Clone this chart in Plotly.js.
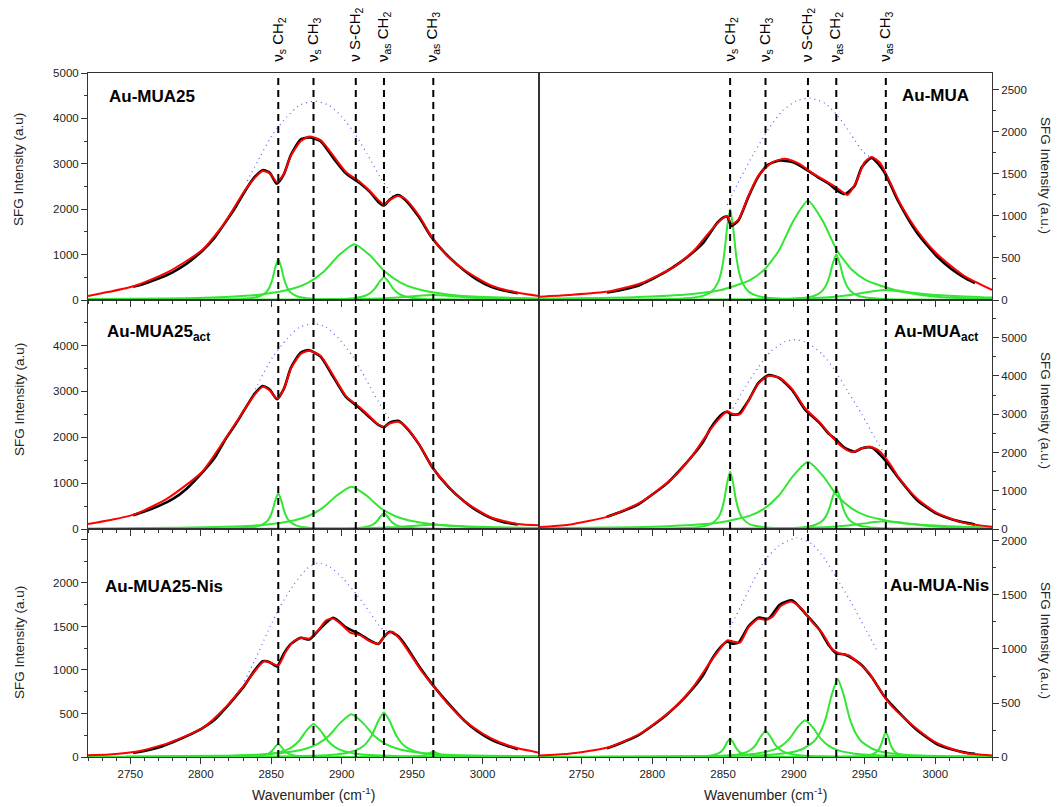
<!DOCTYPE html>
<html><head><meta charset="utf-8">
<script src="https://cdn.plot.ly/plotly-3.0.1.min.js"></script>
<style>body{margin:0;background:#fff}#chart{width:1057px;height:807px}</style>
</head><body><div id="chart"></div>
<script>
// ---------- shared ----------
const modeWavenumbers = [2855, 2880, 2910, 2930, 2965];
const modeLabels = ['ν<sub>s</sub> CH<sub>2</sub>', 'ν<sub>s</sub> CH<sub>3</sub>', 'ν S-CH<sub>2</sub>', 'ν<sub>as</sub> CH<sub>2</sub>', 'ν<sub>as</sub> CH<sub>3</sub>'];
const panelNames = ['Au-MUA25', 'Au-MUA25<sub>act</sub>', 'Au-MUA25-Nis', 'Au-MUA', 'Au-MUA<sub>act</sub>', 'Au-MUA-Nis'];
const xTickLabels = [2750, 2800, 2850, 2900, 2950, 3000];

// ---------- left column (Au-MUA25) ----------
const leftFitX = [2720, 2735, 2754, 2777, 2801, 2817, 2831, 2838, 2844, 2849, 2854, 2859, 2864, 2871, 2877, 2885, 2894, 2903, 2913, 2920, 2926, 2930, 2934, 2940, 2945, 2955, 2964, 2976, 2987, 3006, 3025, 3040];
const tlFitY = [90, 180, 320, 620, 1100, 1700, 2400, 2680, 2840, 2790, 2600, 2780, 3180, 3500, 3600, 3520, 3180, 2820, 2600, 2400, 2200, 2100, 2200, 2290, 2230, 1850, 1380, 940, 660, 320, 160, 90];
const mlFitY = [110, 190, 330, 680, 1250, 1950, 2600, 2920, 3100, 3020, 2850, 3050, 3500, 3820, 3890, 3780, 3350, 2900, 2650, 2450, 2280, 2230, 2300, 2340, 2250, 1850, 1360, 920, 600, 250, 110, 80];
const blFitX = [2720, 2735, 2754, 2777, 2801, 2817, 2831, 2840, 2845, 2850, 2855, 2860, 2866, 2872, 2877, 2883, 2889, 2894, 2900, 2906, 2913, 2920, 2926, 2931, 2936, 2941, 2948, 2957, 2964, 2976, 2987, 3000, 3012, 3025, 3040];
const blFitY = [20, 30, 60, 160, 330, 560, 830, 1020, 1100, 1080, 1050, 1200, 1330, 1370, 1360, 1450, 1570, 1590, 1520, 1430, 1400, 1330, 1300, 1400, 1440, 1360, 1200, 980, 840, 600, 420, 270, 170, 100, 50];

const leftExpX = [2752, 2760, 2770, 2780, 2790, 2801, 2810, 2817, 2825, 2831, 2838, 2844, 2849, 2854, 2859, 2864, 2871, 2877, 2885, 2894, 2903, 2913, 2920, 2926, 2930, 2934, 2940, 2945, 2955, 2964, 2976, 2987, 2996, 3006, 3015, 3025];
const tlExpY = [290, 360, 470, 610, 800, 1080, 1380, 1690, 2060, 2380, 2700, 2860, 2800, 2560, 2770, 3200, 3540, 3580, 3500, 3130, 2790, 2570, 2380, 2160, 2080, 2210, 2310, 2210, 1820, 1370, 950, 650, 450, 290, 210, 150];
const mlExpY = [300, 380, 500, 650, 880, 1230, 1560, 1930, 2300, 2600, 2940, 3120, 3040, 2830, 3060, 3520, 3850, 3900, 3760, 3320, 2880, 2630, 2430, 2270, 2220, 2320, 2360, 2240, 1840, 1360, 910, 600, 400, 240, 150, 100];
const blExpY = [50, 70, 110, 170, 240, 330, 430, 550, 700, 820, 990, 1100, 1090, 1040, 1190, 1300, 1370, 1350, 1480, 1600, 1490, 1410, 1340, 1300, 1380, 1440, 1390, 1290, 1040, 840, 610, 420, 300, 200, 140, 90];

const tlIrX = [2833, 2842, 2851, 2861, 2870, 2881, 2891, 2900, 2909, 2918, 2927, 2937];
const tlIrY = [2620, 3150, 3650, 4030, 4290, 4380, 4290, 4040, 3680, 3220, 2720, 2250];
const mlIrX = [2834, 2842, 2851, 2861, 2870, 2880, 2889, 2898, 2908, 2917, 2926, 2936];
const mlIrY = [2750, 3250, 3750, 4140, 4400, 4480, 4400, 4150, 3760, 3280, 2780, 2300];
const blIrX = [2831, 2838, 2847, 2856, 2866, 2875, 2883, 2892, 2901, 2911, 2920, 2929, 2937];
const blIrY = [870, 1100, 1420, 1720, 1980, 2160, 2230, 2180, 2050, 1860, 1660, 1470, 1440];

// ---------- right column (Au-MUA) ----------
const trFitX = [2720, 2741, 2769, 2792, 2815, 2829, 2841, 2849, 2853, 2856, 2861, 2868, 2875, 2885, 2894, 2904, 2913, 2920, 2928, 2934, 2938, 2944, 2950, 2955, 2961, 2968, 2976, 2987, 3001, 3020, 3040];
const trFitY = [40, 60, 100, 200, 390, 580, 820, 960, 1000, 900, 960, 1240, 1480, 1640, 1680, 1620, 1510, 1440, 1360, 1290, 1250, 1400, 1640, 1700, 1630, 1400, 1120, 830, 550, 290, 120];
const mrFitX = [2720, 2741, 2769, 2792, 2815, 2829, 2841, 2849, 2853, 2856, 2862, 2868, 2875, 2882, 2890, 2899, 2908, 2918, 2926, 2934, 2941, 2948, 2954, 2960, 2967, 2975, 2987, 3001, 3020, 3040];
const mrFitY = [50, 110, 330, 700, 1350, 1950, 2600, 2950, 3080, 3020, 3000, 3350, 3800, 4000, 3950, 3650, 3150, 2800, 2450, 2150, 2010, 2110, 2150, 2050, 1750, 1300, 800, 420, 160, 60];
const brFitX = [2720, 2741, 2769, 2792, 2815, 2829, 2841, 2849, 2853, 2857, 2862, 2868, 2875, 2880, 2885, 2891, 2898, 2905, 2913, 2920, 2927, 2932, 2939, 2945, 2953, 2960, 2966, 2973, 2987, 3001, 3020, 3040];
const brFitY = [15, 30, 90, 220, 450, 650, 880, 1020, 1080, 1070, 1060, 1200, 1280, 1270, 1300, 1400, 1440, 1380, 1250, 1150, 1000, 960, 940, 880, 780, 640, 520, 420, 260, 130, 40, 15];

const rightExpX = [2768, 2778, 2790, 2800, 2810, 2820, 2829, 2836, 2841, 2846, 2850, 2853, 2856, 2861, 2868, 2875, 2882, 2890, 2899, 2908, 2918, 2925, 2930, 2936, 2943, 2948, 2955, 2964, 2973, 2987, 3001, 3012, 3022, 3028];
const trExpY = [90, 120, 170, 250, 340, 450, 570, 680, 800, 920, 980, 990, 880, 950, 1230, 1470, 1610, 1660, 1640, 1560, 1450, 1380, 1310, 1260, 1360, 1580, 1690, 1520, 1200, 800, 520, 360, 250, 200];
const mrExpY = [320, 450, 640, 900, 1180, 1560, 1940, 2280, 2620, 2880, 3020, 3060, 2990, 3000, 3360, 3820, 4020, 3940, 3620, 3120, 2780, 2480, 2330, 2120, 2020, 2110, 2130, 1820, 1380, 760, 400, 250, 160, 120];
const brExpY = [80, 130, 200, 290, 390, 510, 640, 760, 880, 980, 1040, 1070, 1050, 1060, 1210, 1290, 1280, 1410, 1450, 1330, 1180, 1030, 960, 950, 900, 850, 740, 560, 430, 250, 120, 70, 40, 30];

const trIrX = [2853, 2862, 2872, 2882, 2892, 2902, 2912, 2922, 2931, 2940, 2949, 2954];
const trIrY = [1130, 1440, 1750, 2030, 2250, 2370, 2400, 2340, 2190, 1980, 1760, 1700];
const mrIrX = [2857, 2866, 2875, 2884, 2894, 2901, 2910, 2920, 2929, 2938, 2948, 2957, 2966];
const mrIrY = [3150, 3730, 4230, 4650, 4900, 4950, 4860, 4570, 4150, 3600, 3000, 2400, 1850];
const brIrX = [2855, 2862, 2871, 2880, 2890, 2902, 2913, 2922, 2931, 2941, 2950, 2959];
const brIrY = [1200, 1380, 1620, 1830, 1960, 2030, 1970, 1830, 1640, 1420, 1200, 980];

// ---------- fitted components (green) ----------
const g2855X = [2771, 2813, 2829.8, 2838.2, 2842.4, 2846.6, 2848.7, 2850.8, 2852.9, 2855, 2857.1, 2859.2, 2861.3, 2863.4, 2867.6, 2871.8, 2880.2, 2897, 2939];
const tlG1Y = [2, 9, 24, 53, 90, 180, 277, 450, 720, 900, 720, 450, 277, 180, 90, 53, 24, 9, 2];
const mlG1Y = [2, 8, 21, 46, 78, 156, 240, 390, 624, 780, 624, 390, 240, 156, 78, 46, 21, 8, 2];
const blG1Y = [0, 1, 4, 9, 15, 30, 46, 75, 120, 150, 120, 75, 46, 30, 15, 9, 4, 1, 0];
const trG1Y = [3, 11, 29, 64, 108, 216, 333, 540, 864, 1080, 864, 540, 333, 216, 108, 64, 29, 11, 3];
const mrG1Y = [4, 15, 41, 89, 150, 300, 462, 750, 1200, 1500, 1200, 750, 462, 300, 150, 89, 41, 15, 4];
const brG1Y = [0, 2, 5, 10, 17, 34, 52, 85, 136, 170, 136, 85, 52, 34, 17, 10, 5, 2, 0];

const tlG2X = [2689, 2777, 2821, 2843, 2865, 2876, 2887, 2898, 2909, 2920, 2931, 2942, 2953, 2975, 2997, 3041, 3129];
const tlG2Y = [12, 33, 73, 123, 246, 379, 615, 984, 1230, 984, 615, 379, 246, 123, 73, 33, 12];
const mlG2X = [2702, 2784, 2825, 2845.5, 2866, 2876.3, 2886.5, 2896.8, 2907, 2917.3, 2927.5, 2937.8, 2948, 2968.5, 2989, 3030, 3112];
const mlG2Y = [9, 25, 54, 92, 184, 283, 460, 736, 920, 736, 460, 283, 184, 92, 54, 25, 9];
const rG2X = [2705, 2787, 2828, 2848.5, 2869, 2879.3, 2889.5, 2899.8, 2910, 2920.3, 2930.5, 2940.8, 2951, 2971.5, 2992, 3033, 3115];
const trG2Y = [12, 32, 70, 118, 236, 363, 590, 944, 1180, 944, 590, 363, 236, 118, 70, 32, 12];
const mrG2Y = [17, 47, 103, 175, 350, 539, 875, 1400, 1750, 1400, 875, 539, 350, 175, 103, 47, 17];

const tlG3X = [2800, 2865, 2891, 2904, 2910.5, 2917, 2920.3, 2923.5, 2926.8, 2930, 2933.3, 2936.5, 2939.8, 2943, 2949.5, 2956, 2969, 2995, 3060];
const tlG3Y = [1, 5, 14, 30, 50, 100, 154, 250, 400, 500, 400, 250, 154, 100, 50, 30, 14, 5, 1];
const g2930X = [2830, 2880, 2900, 2910, 2915, 2920, 2922.5, 2925, 2927.5, 2930, 2932.5, 2935, 2937.5, 2940, 2945, 2950, 2960, 2980, 3030];
const mlG3Y = [1, 3, 9, 20, 34, 68, 105, 170, 272, 340, 272, 170, 105, 68, 34, 20, 9, 3, 1];
const trG3Y = [1, 5, 15, 32, 54, 108, 166, 270, 432, 540, 432, 270, 166, 108, 54, 32, 15, 5, 1];
const mrG3Y = [3, 10, 28, 62, 105, 210, 323, 525, 840, 1050, 840, 525, 323, 210, 105, 62, 28, 10, 3];

const g2965BroadX = [2715, 2815, 2865, 2890, 2915, 2927.5, 2940, 2952.5, 2965, 2977.5, 2990, 3002.5, 3015, 3040, 3065];
const tlG4Y = [1, 3, 6, 11, 22, 34, 55, 88, 110, 88, 55, 34, 22, 11, 6];
const mlG4Y = [1, 2, 5, 9, 18, 28, 45, 72, 90, 72, 45, 28, 18, 9, 5];
const trG4Y = [1, 3, 7, 12, 24, 37, 60, 96, 120, 96, 60, 37, 24, 12, 7];
const mrG4Y = [2, 5, 12, 20, 40, 62, 100, 160, 200, 160, 100, 62, 40, 20, 12];

const blG2X = [2680, 2780, 2820, 2840, 2850, 2860, 2865, 2870, 2875, 2880, 2885, 2890, 2895, 2900, 2910, 2920, 2940, 2980, 3080];
const blG2Y = [1, 4, 10, 22, 38, 76, 117, 190, 304, 380, 304, 190, 117, 76, 38, 22, 10, 4, 1];
const blG3X = [2747, 2811, 2843, 2859, 2875, 2883, 2891, 2899, 2907, 2915, 2923, 2931, 2939, 2955, 2971, 3003, 3067];
const blG3Y = [5, 13, 29, 49, 98, 151, 245, 392, 490, 392, 245, 151, 98, 49, 29, 13, 5];
const blG4X = [2762, 2846, 2879.6, 2896.4, 2904.8, 2913.2, 2917.4, 2921.6, 2925.8, 2930, 2934.2, 2938.4, 2942.6, 2946.8, 2955.2, 2963.6, 2980.4, 3014, 3098];
const blG4Y = [1, 5, 14, 30, 51, 102, 157, 255, 408, 510, 408, 255, 157, 102, 51, 30, 14, 5, 1];
const blG5X = [2871, 2918, 2936.8, 2946.2, 2950.9, 2955.6, 2958, 2960.3, 2962.7, 2965, 2967.4, 2969.7, 2972, 2974.4, 2979.1, 2983.8, 2993.2, 3012, 3059];
const blG5Y = [0, 1, 2, 4, 6, 12, 18, 30, 48, 60, 48, 30, 18, 12, 6, 4, 2, 1, 0];

const brG2X = [2750, 2815, 2841, 2854, 2860.5, 2867, 2870.3, 2873.5, 2876.8, 2880, 2883.3, 2886.5, 2889.8, 2893, 2899.5, 2906, 2919, 2945, 3010];
const brG2Y = [1, 2, 6, 14, 24, 48, 74, 120, 192, 240, 192, 120, 74, 48, 24, 14, 6, 2, 1];
const brG3X = [2688, 2798, 2842, 2864, 2875, 2886, 2891.5, 2897, 2902.5, 2908, 2913.5, 2919, 2924.5, 2930, 2941, 2952, 2974, 3018, 3128];
const brG3Y = [1, 3, 9, 20, 34, 68, 105, 170, 272, 340, 272, 170, 105, 68, 34, 20, 9, 3, 1];
const brG4X = [2763, 2847, 2880.6, 2897.4, 2905.8, 2914.2, 2918.4, 2922.6, 2926.8, 2931, 2935.2, 2939.4, 2943.6, 2947.8, 2956.2, 2964.6, 2981.4, 3015, 3099];
const brG4Y = [2, 7, 19, 42, 72, 144, 222, 360, 576, 720, 576, 360, 222, 144, 72, 42, 19, 7, 2];
const brG5X = [2899, 2932, 2945.2, 2951.8, 2955.1, 2958.4, 2960, 2961.7, 2963.4, 2965, 2966.7, 2968.3, 2970, 2971.6, 2974.9, 2978.2, 2984.8, 2998, 3031];
const brG5Y = [1, 2, 6, 14, 23, 46, 71, 115, 184, 230, 184, 115, 71, 46, 23, 14, 6, 2, 1];

// y-axis tick values per panel (TL, ML, BL, TR, MR, BR)
const yTickVals = [[0, 1000, 2000, 3000, 4000, 5000], [0, 1000, 2000, 3000, 4000], [0, 500, 1000, 1500, 2000, 2500],
                   [0, 500, 1000, 1500, 2000, 2500], [0, 1000, 2000, 3000, 4000, 5000], [0, 500, 1000, 1500, 2000]];
const yTickText = [['0', '1000', '2000', '3000', '4000', '5000'], ['0', '1000', '2000', '3000', '4000'], ['0', '500', '1000', '1500', '2000', ''],
                   ['0', '500', '1000', '1500', '2000', '2500'], ['0', '1000', '2000', '3000', '4000', '5000'], ['0', '500', '1000', '1500', '2000']];

// ---------- build ----------
const W = 1057, H = 807;
const px = v => v / W, py = v => 1 - v / H;
const GREEN = '#33e633', RED = '#ff0000', BLACK = '#000000', BLUE = '#5a5aff';
const FONT = 'Liberation Sans, Arial, Helvetica, sans-serif';

const traces = [];
function line(xs, ys, ax, color, width, dash) {
  traces.push({x: xs, y: ys, xaxis: 'x' + ax, yaxis: 'y' + ax, type: 'scatter', mode: 'lines',
    line: {color: color, width: width, dash: dash || 'solid', shape: 'spline', smoothing: 0.6},
    hoverinfo: 'skip', showlegend: false});
}
function panel(ax, greens, ir, exp, fit) {
  greens.forEach(g => line(g[0], g[1], ax, GREEN, 2));
  line(ir[0], ir[1], ax, BLUE, 1.2, '1px,4px');
  line(exp[0], exp[1], ax, BLACK, 2.6);
  line(fit[0], fit[1], ax, RED, 2);
}
const AX = ['', '2', '3', '4', '5', '6'];
panel('', [[g2855X, tlG1Y], [tlG2X, tlG2Y], [tlG3X, tlG3Y], [g2965BroadX, tlG4Y]], [tlIrX, tlIrY], [leftExpX, tlExpY], [leftFitX, tlFitY]);
panel('2', [[g2855X, mlG1Y], [mlG2X, mlG2Y], [g2930X, mlG3Y], [g2965BroadX, mlG4Y]], [mlIrX, mlIrY], [leftExpX, mlExpY], [leftFitX, mlFitY]);
panel('3', [[g2855X, blG1Y], [blG2X, blG2Y], [blG3X, blG3Y], [blG4X, blG4Y], [blG5X, blG5Y]], [blIrX, blIrY], [leftExpX, blExpY], [blFitX, blFitY]);
panel('4', [[g2855X, trG1Y], [rG2X, trG2Y], [g2930X, trG3Y], [g2965BroadX, trG4Y]], [trIrX, trIrY], [rightExpX, trExpY], [trFitX, trFitY]);
panel('5', [[g2855X, mrG1Y], [rG2X, mrG2Y], [g2930X, mrG3Y], [g2965BroadX, mrG4Y]], [mrIrX, mrIrY], [rightExpX, mrExpY], [mrFitX, mrFitY]);
panel('6', [[g2855X, brG1Y], [brG2X, brG2Y], [brG3X, brG3Y], [brG4X, brG4Y], [brG5X, brG5Y]], [brIrX, brIrY], [rightExpX, brExpY], [brFitX, brFitY]);

const colX = [[px(88), px(539)], [px(539), px(992)]];
const rowY = [[py(300), py(73)], [py(529), py(300)], [py(757), py(529)]];
const yRanges = [[0, 5000], [0, 4995], [0, 2620], [0, 2700], [0, 5985], [0, 2111]];
const yMinorD = [500, 500, 250, 250, 500, 250];

const layout = {width: W, height: H, margin: {l: 0, r: 0, t: 0, b: 0},
  paper_bgcolor: '#fff', plot_bgcolor: '#fff', showlegend: false,
  font: {family: FONT, color: '#222', size: 11}, annotations: [], shapes: []};

for (let i = 0; i < 6; i++) {
  const col = i < 3 ? 0 : 1, row = i % 3, a = AX[i];
  layout['xaxis' + a] = {domain: colX[col], anchor: 'y' + a, range: [2720, 3040],
    tickmode: 'array', tickvals: xTickLabels, ticktext: xTickLabels.map(String),
    ticks: 'outside', ticklen: 6, tickwidth: 1, tickcolor: '#333',
    minor: {ticks: 'outside', tickmode: 'linear', tick0: 2720, dtick: 10, ticklen: 3, tickcolor: '#333'},
    showticklabels: row === 2, tickfont: {size: 11.5, color: '#222', family: FONT},
    showline: true, linecolor: '#333', linewidth: 1, mirror: true,
    showgrid: false, zeroline: false, fixedrange: true};
  layout['yaxis' + a] = {domain: rowY[row], anchor: 'x' + a, range: yRanges[i],
    tickmode: 'array', tickvals: yTickVals[i], ticktext: yTickText[i], side: col === 0 ? 'left' : 'right',
    ticks: 'outside', ticklen: 6, tickwidth: 1, tickcolor: '#333',
    minor: {ticks: 'outside', tickmode: 'linear', tick0: 0, dtick: yMinorD[i], ticklen: 3, tickcolor: '#333'},
    tickfont: {size: 11.5, color: '#222', family: FONT},
    showline: true, linecolor: '#333', linewidth: 1, mirror: true,
    showgrid: false, zeroline: false, fixedrange: true};
}

// dashed mode lines and their labels
modeWavenumbers.forEach((w, k) => {
  ['x', 'x4'].forEach(xr => {
    layout.shapes.push({type: 'line', xref: xr, yref: 'paper', x0: w, x1: w, y0: py(757), y1: py(73),
      line: {color: '#000', width: 2, dash: '7px,5px'}, layer: 'above'});
    layout.annotations.push({xref: xr, yref: 'paper', x: w, y: py(64), xanchor: 'center', yanchor: 'bottom',
      text: modeLabels[k], textangle: -90, showarrow: false, font: {size: 15, color: '#000', family: FONT}});
  });
});

// panel names
const namePos = [[107, 97], [105, 333], [103, 586], [900, 96], [892, 333], [888, 585]];
panelNames.forEach((n, i) => {
  layout.annotations.push({xref: 'paper', yref: 'paper', x: px(namePos[i][0]), y: py(namePos[i][1]),
    xanchor: 'left', yanchor: 'middle', text: '<b>' + n + '</b>', showarrow: false,
    font: {size: 17, color: '#000', family: FONT}});
});

// axis titles
[170, 400, 643].forEach(yc => {
  layout.annotations.push({xref: 'paper', yref: 'paper', x: px(19), y: py(yc), xanchor: 'center', yanchor: 'middle',
    text: 'SFG Intensity (a.u)', textangle: -90, showarrow: false, font: {size: 13.5, color: '#222', family: FONT}});
});
[175, 410, 640].forEach(yc => {
  layout.annotations.push({xref: 'paper', yref: 'paper', x: px(1046), y: py(yc), xanchor: 'center', yanchor: 'middle',
    text: 'SFG Intensity (a.u.)', textangle: 90, showarrow: false, font: {size: 13.5, color: '#222', family: FONT}});
});
[313, 765].forEach(xc => {
  layout.annotations.push({xref: 'paper', yref: 'paper', x: px(xc), y: py(794), xanchor: 'center', yanchor: 'middle',
    text: 'Wavenumber (cm<sup>-1</sup>)', showarrow: false, font: {size: 14, color: '#222', family: FONT}});
});

Plotly.newPlot('chart', traces, layout, {staticPlot: true, displayModeBar: false});
</script></body></html>
